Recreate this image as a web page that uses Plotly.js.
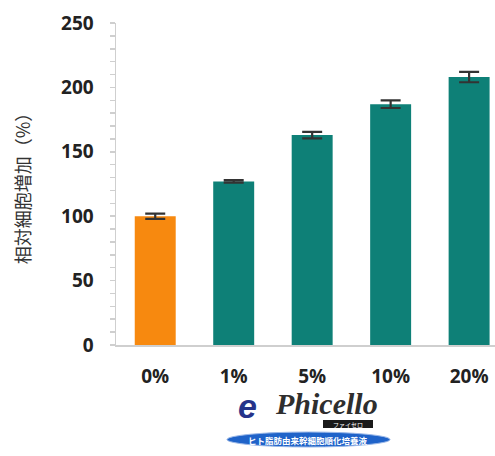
<!DOCTYPE html>
<html>
<head>
<meta charset="utf-8">
<script src="https://cdn.plot.ly/plotly-3.0.1.min.js"></script>
<style>html,body{margin:0;padding:0;background:#fff;}#chart{width:495px;height:456px;}</style>
</head>
<body>
<div id="chart"></div>
<script>
const categories = ['0%', '1%', '5%', '10%', '20%'];
const values = [100, 127, 163, 187, 208];
const errors = [2, 1, 2.5, 3, 4];
const barColors = ['#f7890f', '#0e8077', '#0e8077', '#0e8077', '#0e8077'];
const yTitle = '相対細胞増加（%）';
const yTicks = [0, 50, 100, 150, 200, 250];

// pixel -> paper helpers (plot area: x 116..495, y 23..345)
const L = 116, R = 495, T = 23, B = 345;
const px = x => (x - L) / (R - L);
const py = y => (B - y) / (B - T);

const trace = {
  type: 'bar',
  x: categories,
  y: values,
  marker: {color: barColors, line: {width: 0}},
  error_y: {type: 'data', array: errors, visible: true, color: '#333', thickness: 2.2, width: 10},
  hoverinfo: 'x+y'
};

const ann = (x, y, text, font) => ({xref: 'paper', yref: 'paper', x: px(x), y: py(y), text, showarrow: false,
  xanchor: 'center', yanchor: 'middle', font});

const layout = {
  width: 495, height: 456,
  margin: {l: L, r: 0, t: T, b: 456 - B},
  paper_bgcolor: '#fff', plot_bgcolor: '#fff',
  showlegend: false,
  bargap: 0.478,
  font: {family: '"Open Sans", "Noto Sans CJK JP", sans-serif', color: '#222'},
  xaxis: {
    type: 'category',
    range: [-0.5, 4.33],
    showline: true, linecolor: '#cfcfcf', linewidth: 1.5,
    ticks: '', showgrid: false, zeroline: false,
    tickfont: {family: '"Open Sans", sans-serif', size: 19, weight: 'bold', color: '#222'},
    ticklabelstandoff: 14
  },
  yaxis: {
    range: [0, 250],
    tickvals: yTicks,
    showline: true, linecolor: '#cfcfcf', linewidth: 1.5,
    ticks: 'outside', ticklen: 5, tickcolor: '#cfcfcf', tickwidth: 1.5,
    minor: {dtick: 10, ticks: 'outside', ticklen: 5, tickcolor: '#cfcfcf', tickwidth: 1.5, showgrid: false},
    showgrid: false, zeroline: false,
    tickfont: {family: '"Open Sans", sans-serif', size: 19, weight: 'bold', color: '#222'},
    ticklabelstandoff: 12,
    title: {text: yTitle, font: {family: '"Noto Sans CJK JP", sans-serif', size: 18, color: '#333'}, standoff: 26}
  },
  shapes: [
    {type: 'rect', xref: 'paper', yref: 'paper', x0: px(323), x1: px(373), y0: py(428), y1: py(420),
     fillcolor: '#1a1a1a', line: {width: 0}},
    {type: 'circle', xref: 'paper', yref: 'paper', x0: px(227), x1: px(390), y0: py(447), y1: py(432),
     fillcolor: '#1f63c9', line: {width: 1, color: '#9bb8e8'}}
  ],
  annotations: [
    ann(247, 406, '<b><i>e</i></b>', {family: '"Liberation Sans", sans-serif', size: 34, color: '#26338a'}),
    ann(326, 403, '<b><i>Phicello</i></b>', {family: '"Liberation Serif", serif', size: 30, color: '#2e2e2e'}),
    ann(348, 424.5, 'ファイセロ', {family: '"Noto Sans CJK JP", sans-serif', size: 6, color: '#fff'}),
    ann(308, 439.5, '<b>ヒト脂肪由来幹細胞順化培養液</b>', {family: '"Noto Sans CJK JP", sans-serif', size: 8.5, color: '#fff'})
  ]
};

Plotly.newPlot('chart', [trace], layout, {displayModeBar: false, staticPlot: true});
</script>
</body>
</html>
